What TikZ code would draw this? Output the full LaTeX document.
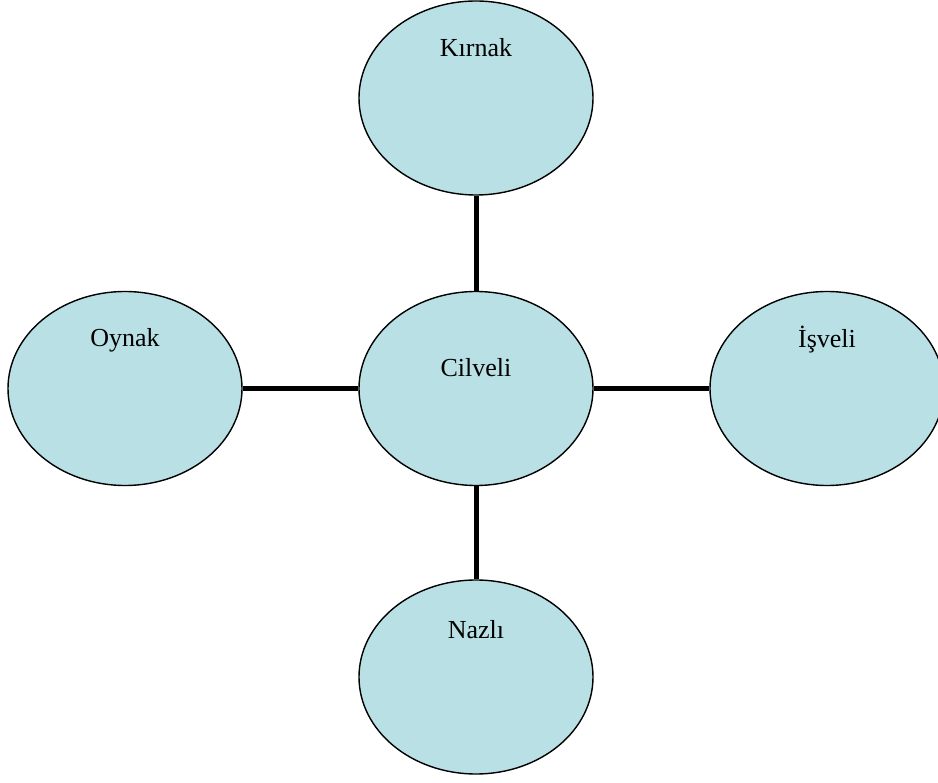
\documentclass[tikz,border=0pt]{standalone}
\usepackage{fontspec}
\setmainfont{Liberation Serif}
\definecolor{bubblefill}{HTML}{B9E0E4}
\usetikzlibrary{shapes,positioning,calc}

\begin{document}
\begin{tikzpicture}[x=1pt, y=-1pt,
  bubble/.style={ellipse, draw=black, line width=1.4pt, fill=bubblefill,
    minimum width=234pt, minimum height=194pt, inner sep=0pt},
  word/.style={font=\fontsize{26}{30}\selectfont, inner sep=0pt},
  link/.style={line width=5pt}]
\useasboundingbox (0,0) rectangle (938,783);

% Center
\node[bubble] (cilveli) at (476,388.5) {};
\node[word] (cilvelitext) at (476,368) {Cilveli};

% Outer ellipses
\node[bubble] (kirnak) at (476,98) {};
\node[word] (kirnaktext) at (476,48) {Kırnak};

\node[bubble] (oynak) at (125,388.5) {};
\node[word] (oynaktext) at (125,340) {Oynak};

\node[bubble] (isveli) at (827,388.5) {};
\node[word] (isvelitext) at (827,340) {İşveli};

\node[bubble] (nazli) at (476,677) {};
\node[word] (naztext) at (476,630) {Nazlı};

% Links
\draw[link] (kirnak) -- (cilveli);
\draw[link] (oynak) -- (cilveli);
\draw[link] (cilveli) -- (isveli);
\draw[link] (cilveli) -- (nazli);
\end{tikzpicture}
\end{document}
